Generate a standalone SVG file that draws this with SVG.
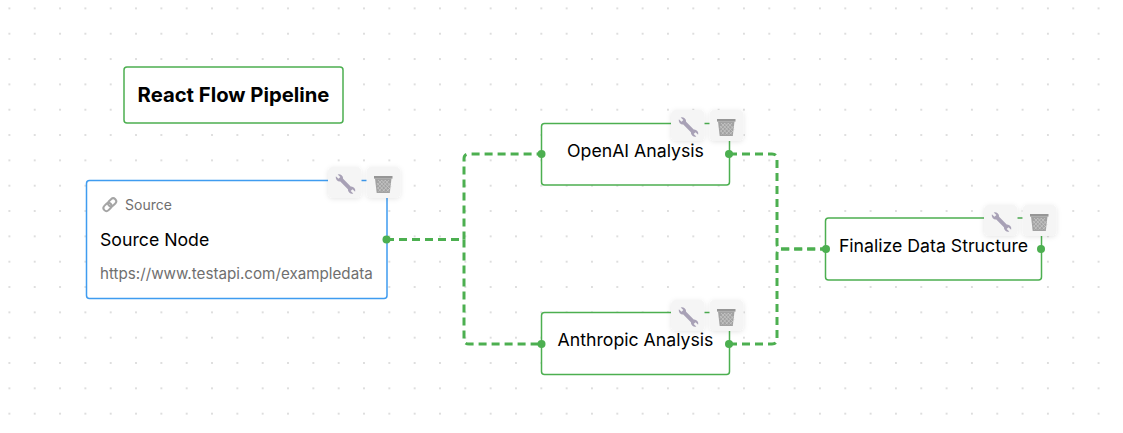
<svg xmlns="http://www.w3.org/2000/svg" width="1123" height="433" viewBox="0 0 1123 433">
<style>
text{font-family:Inter,"Liberation Sans",sans-serif}
.gn{fill:#fff;stroke:#4caf50;stroke-width:1.5}
.lbl{font-size:17.7px;fill:#000}
.edge{fill:none;stroke:#4caf50;stroke-width:3;stroke-dasharray:8 5}
.h{fill:#4caf50}
.btn{fill:#f5f5f5}
</style>
<defs>
<pattern id="dots" x="9.4" y="8.4" width="25.33" height="25.33" patternUnits="userSpaceOnUse">
<circle cx="0" cy="0" r="0.7" fill="#a8a8a8"/><circle cx="25.33" cy="0" r="0.7" fill="#a8a8a8"/><circle cx="0" cy="25.33" r="0.7" fill="#a8a8a8"/><circle cx="25.33" cy="25.33" r="0.7" fill="#a8a8a8"/>
</pattern>
<filter id="sh" x="-30%" y="-30%" width="160%" height="160%"><feDropShadow dx="0" dy="1" stdDeviation="2.5" flood-color="#000" flood-opacity="0.1"/></filter>
<g id="tools">
<rect class="btn" x="0" y="0" width="33.5" height="31" rx="5" filter="url(#sh)"/>
<rect class="btn" x="38.5" y="0" width="34" height="31" rx="5" filter="url(#sh)"/>
<path transform="translate(17.5 17) rotate(45)" fill="#a8a1b6" d="M-12.300-1.300H-8.600V1.300H-12.300A4.200 4.200 0 0 0-5.400 2H5.400A4.200 4.200 0 0 0 12.300 1.300H8.600V-1.300H12.300A4.200 4.200 0 0 0 5.400-2H-5.400A4.200 4.200 0 0 0-12.300-1.300Z"/>
<g>
<rect x="46" y="9" width="18.500" height="2.600" fill="#969696"/>
<path d="M47 11.600H63.500L61.800 26H48.700Z" fill="#a2a2a2"/>
<path d="M50 13L61 24.500M53.500 13L62 22M57 13L63 19.500M49 16L57 24.500M49.500 20.500L53 24.500M61 13L50.500 24.500M57.500 13L49.500 21.500M54 13L49 18.500M62.500 16L54.500 24.500M62 21L58.500 24.500" stroke="#c8c8c8" stroke-width="0.8" fill="none"/>
</g>
</g>
</defs>
<rect width="1123" height="433" fill="#fff"/>
<rect width="1123" height="433" fill="url(#dots)"/>
<g id="connectors">
<path class="edge" d="M386 239.500H464V159Q464 154 469 154H541"/>
<path class="edge" d="M386 239.500H464V339Q464 344 469 344H541"/>
<path class="edge" d="M729 154H772Q777 154 777 159V244Q777 249 782 249H825"/>
<path class="edge" d="M729 344H772Q777 344 777 339V254Q777 249 782 249H825"/>
</g>
<g id="node-title">
<rect class="gn" x="124" y="67" width="219" height="56" rx="3"/>
<text x="233.500" y="101.500" text-anchor="middle" font-size="20.250" font-weight="700" fill="#000">React Flow Pipeline</text>
</g>
<g id="node-source">
<rect x="86.500" y="180.500" width="300.500" height="118" rx="3" fill="#fff" stroke="#3f9cf0" stroke-width="1.500"/>
<use href="#tools" x="328" y="167"/>
<g transform="rotate(-45 110 204.500)" fill="none" stroke="#a5a5a5" stroke-width="2">
<rect x="102" y="201.500" width="9" height="6" rx="3"/>
<rect x="108.500" y="201.500" width="9" height="6" rx="3"/>
</g>
<text x="125" y="210" font-size="14" fill="#6f6f6f">Source</text>
<text x="100" y="246" class="lbl">Source Node</text>
<text x="100" y="279" font-size="15.200" fill="#6f6f6f">https://www.testapi.com/exampledata</text>
<circle class="h" cx="386.500" cy="239.500" r="4"/>
</g>
<g id="node-openai">
<rect class="gn" x="541.500" y="123.500" width="188" height="61.500" rx="3"/>
<use href="#tools" x="671" y="110"/>
<text x="635.500" y="156.500" text-anchor="middle" class="lbl">OpenAI Analysis</text>
<circle class="h" cx="541.500" cy="154" r="4"/>
<circle class="h" cx="729" cy="154" r="4"/>
</g>
<g id="node-anthropic">
<rect class="gn" x="541.500" y="312.500" width="188" height="62" rx="3"/>
<use href="#tools" x="671" y="300"/>
<text x="635.500" y="345.500" text-anchor="middle" class="lbl">Anthropic Analysis</text>
<circle class="h" cx="541.500" cy="344" r="4"/>
<circle class="h" cx="729" cy="344" r="4"/>
</g>
<g id="node-finalize">
<rect class="gn" x="825.500" y="218" width="216" height="62" rx="3"/>
<use href="#tools" x="984" y="205"/>
<text x="933.500" y="251.500" text-anchor="middle" class="lbl">Finalize Data Structure</text>
<circle class="h" cx="826" cy="249" r="4"/>
<circle class="h" cx="1041" cy="249" r="4"/>
</g>
</svg>
